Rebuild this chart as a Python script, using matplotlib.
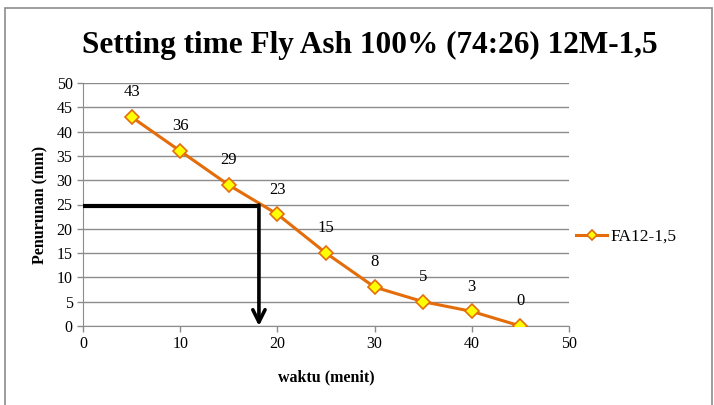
import matplotlib
matplotlib.use('Agg')
from matplotlib import pyplot as plt
from matplotlib.patches import Rectangle

# data
waktu = [5, 10, 15, 20, 25, 30, 35, 40, 45]
penurunan = [43, 36, 29, 23, 15, 8, 5, 3, 0]
series_name = 'FA12-1,5'

# guide line: penurunan 25 mm read back to waktu
guide_y = 24.6
guide_x = 18.1

plt.rcParams['font.family'] = ['Liberation Serif', 'DejaVu Serif']

fig = plt.figure(figsize=(7.14, 4.05), dpi=100)
fig.patches.append(Rectangle((5 / 714, -0.01), 707 / 714, 1 - 8 / 405 + 0.01,
                             transform=fig.transFigure, fill=False,
                             edgecolor='#8c8c8c', linewidth=1.2))
ax = fig.add_axes([83 / 714, 79 / 405, 486 / 714, 243 / 405])

ax.plot(waktu, penurunan, color='#e46c0a', linewidth=2.2, marker='D',
        markersize=7, markerfacecolor='#ffff00', markeredgecolor='#e46c0a',
        markeredgewidth=1.2, label=series_name, zorder=3)
for x, y in zip(waktu, penurunan):
    ax.annotate(str(y), (x, y), xytext=(0, 12), textcoords='offset points',
                ha='center', va='bottom', fontsize=12)

ax.plot([0, guide_x], [guide_y, guide_y], color='black', linewidth=3,
        solid_capstyle='butt', zorder=4)
ax.annotate('', xy=(guide_x, 0), xytext=(guide_x, guide_y + 0.3),
            arrowprops=dict(arrowstyle='->', color='black', lw=2.6,
                            mutation_scale=22, shrinkA=0, shrinkB=0),
            zorder=4)

ax.set_xlim(0, 50)
ax.set_ylim(0, 50)
ax.set_xticks(range(0, 51, 10))
ax.set_yticks(range(0, 51, 5))
ax.tick_params(labelsize=11.5, color='#8c8c8c', length=4, width=1)
ax.grid(axis='y', color='#8c8c8c', linewidth=1)
ax.set_axisbelow(True)
for side in ['top', 'right']:
    ax.spines[side].set_visible(False)
for side in ['left', 'bottom']:
    ax.spines[side].set_color('#8c8c8c')

ax.set_xlabel('waktu (menit)', fontsize=11.5, fontweight='bold', labelpad=12)
ax.set_ylabel('Penurunan (mm)', fontsize=11.5, fontweight='bold', labelpad=6)
fig.text(370 / 714, 1 - 45 / 405, 'Setting time Fly Ash 100% (74:26) 12M-1,5',
         ha='center', va='center', fontsize=22.5, fontweight='bold')

ax.legend(loc='center left', bbox_to_anchor=(1.0, 0.366), frameon=False,
          borderaxespad=0, fontsize=12.5, handlelength=1.8, handletextpad=0.2,
          markerscale=0.8)

fig.savefig('out.png', dpi=100)
